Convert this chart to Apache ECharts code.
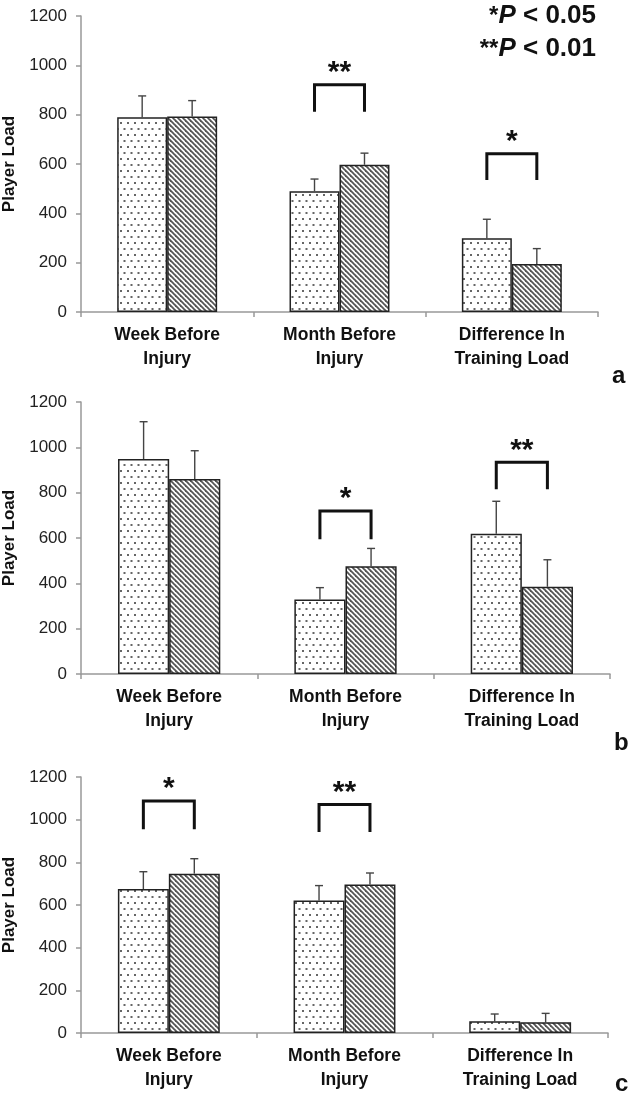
<!DOCTYPE html>
<html><head><meta charset="utf-8">
<script src="https://cdn.jsdelivr.net/npm/echarts@6/dist/echarts.min.js"></script>
<style>html,body{margin:0;padding:0;background:#fff}#c{width:631px;height:1097px}</style>
</head><body><div id="c"></div>
<script>
// ---- data ----
const categories = ['Week Before\nInjury', 'Month Before\nInjury', 'Difference In\nTraining Load'];
const yTicks = [0, 200, 400, 600, 800, 1000, 1200];
const panelLabels = ['a', 'b', 'c'];

const aDotted = [790, 490, 299];
const aDottedErr = [86, 49, 77];
const aHatched = [793, 597, 195];
const aHatchedErr = [64, 47, 62];

const bDotted = [948, 329, 619];
const bDottedErr = [165, 52, 143];
const bHatched = [860, 475, 385];
const bHatchedErr = [125, 79, 119];

const cDotted = [675, 621, 55];
const cDottedErr = [81, 70, 34];
const cHatched = [747, 696, 50];
const cHatchedErr = [70, 54, 42];

// significance brackets: [category index, leg bottom, bracket top, label]
const aBrackets = [[1, 812, 921, '**'], [2, 535, 642, '*']];
const bBrackets = [[1, 595, 719, '*'], [2, 815, 934, '**']];
const cBrackets = [[0, 955, 1087, '*'], [1, 942, 1071, '**']];

// ---- patterns ----
function dotPattern() {
  const c = document.createElement('canvas'); c.width = 7; c.height = 12;
  const x = c.getContext('2d');
  x.fillStyle = '#fff'; x.fillRect(0, 0, 7, 12);
  x.fillStyle = '#666';
  x.fillRect(1, 2, 2, 2); x.fillRect(4.5, 8, 2, 2);
  return c;
}
function hatchPattern() {
  const s = 5;
  const c = document.createElement('canvas'); c.width = s; c.height = s;
  const x = c.getContext('2d');
  x.fillStyle = '#fff'; x.fillRect(0, 0, s, s);
  x.strokeStyle = '#555'; x.lineWidth = 1.8;
  for (const k of [-s, 0, s]) { x.beginPath(); x.moveTo(k - 1, -1); x.lineTo(k + s + 1, s + 1); x.stroke(); }
  return c;
}
const dotFill = { image: dotPattern(), repeat: 'repeat' };
const hatchFill = { image: hatchPattern(), repeat: 'repeat' };

const GAP = 0.42;
const grids = [
  { left: 81, top: 16, width: 517, height: 296, containLabel: false, outerBoundsMode: 'none' },
  { left: 81, top: 402, width: 529, height: 272, containLabel: false, outerBoundsMode: 'none' },
  { left: 81, top: 777, width: 527, height: 256, containLabel: false, outerBoundsMode: 'none' }
];
const panels = [
  [aDotted, aDottedErr, aHatched, aHatchedErr, aBrackets],
  [bDotted, bDottedErr, bHatched, bHatchedErr, bBrackets],
  [cDotted, cDottedErr, cHatched, cHatchedErr, cBrackets]
];

const FONT = '"Liberation Sans", Arial, sans-serif';
const xAxis = [], yAxis = [], series = [];

function errSeries(i, means, errs, side) {
  return {
    type: 'custom', xAxisIndex: i, yAxisIndex: i, z: 1,
    data: means.map((m, k) => [k, m, errs[k]]),
    renderItem: function (params, api) {
      const band = api.size([1, 0])[0];
      const bw = band * (1 - GAP) / 2;
      const base = api.coord([api.value(0), api.value(1)]);
      const top = api.coord([api.value(0), api.value(1) + api.value(2)]);
      const x = base[0] + side * bw / 2;
      return { type: 'group', children: [
        { type: 'line', shape: { x1: x, y1: base[1], x2: x, y2: top[1] }, style: { stroke: '#444', lineWidth: 1.4 } },
        { type: 'line', shape: { x1: x - 4, y1: top[1], x2: x + 4, y2: top[1] }, style: { stroke: '#444', lineWidth: 1.4 } }
      ] };
    }
  };
}

panels.forEach((p, i) => {
  const [dm, de, hm, he, br] = p;
  xAxis.push({
    type: 'category', gridIndex: i, data: categories,
    axisLine: { lineStyle: { color: '#999', width: 1.5 } },
    axisTick: { show: true, length: 5, lineStyle: { color: '#999', width: 1.5 } },
    axisLabel: { interval: 0, color: '#111', fontFamily: FONT, fontWeight: 'bold', fontSize: 17.5, lineHeight: 24, margin: 11 }
  });
  yAxis.push({
    type: 'value', gridIndex: i, min: yTicks[0], max: yTicks[yTicks.length - 1], interval: 200,
    name: 'Player Load', nameLocation: 'middle', nameGap: 54, nameRotate: 90,
    nameTextStyle: { color: '#111', fontFamily: FONT, fontWeight: 'bold', fontSize: 17 },
    splitLine: { show: false },
    axisLine: { show: true, lineStyle: { color: '#999', width: 1.5 } },
    axisTick: { show: true, length: 5, lineStyle: { color: '#999', width: 1.5 } },
    axisLabel: { color: '#222', fontFamily: FONT, fontSize: 17, margin: 14, formatter: v => String(v) }
  });
  series.push({
    type: 'bar', xAxisIndex: i, yAxisIndex: i, data: dm, barGap: '0%', barCategoryGap: (GAP * 100) + '%',
    itemStyle: { color: dotFill, borderColor: '#222', borderWidth: 1.5 }, z: 2
  });
  series.push({
    type: 'bar', xAxisIndex: i, yAxisIndex: i, data: hm, barGap: '0%', barCategoryGap: (GAP * 100) + '%',
    itemStyle: { color: hatchFill, borderColor: '#222', borderWidth: 1.5 }, z: 2
  });
  series.push(errSeries(i, dm, de, -1));
  series.push(errSeries(i, hm, he, 1));
  series.push({
    type: 'custom', xAxisIndex: i, yAxisIndex: i, z: 3,
    data: br.map(b => [b[0], b[1], b[2]]),
    renderItem: function (params, api) {
      const band = api.size([1, 0])[0];
      const bw = band * (1 - GAP) / 2;
      const lo = api.coord([api.value(0), api.value(1)]);
      const hi = api.coord([api.value(0), api.value(2)]);
      const x1 = lo[0] - bw / 2, x2 = lo[0] + bw / 2;
      return { type: 'group', children: [
        { type: 'polyline', shape: { points: [[x1, lo[1]], [x1, hi[1]], [x2, hi[1]], [x2, lo[1]]] },
          style: { stroke: '#111', lineWidth: 3, fill: null } },
        { type: 'text', x: lo[0], y: hi[1] + 3,
          style: { text: br[params.dataIndex][3], fill: '#111', font: 'bold 30px ' + FONT, textAlign: 'center', textVerticalAlign: 'bottom' } }
      ] };
    }
  });
});

const rich = {
  s: { fontFamily: FONT, fontWeight: 'bold', fontSize: 24 },
  i: { fontFamily: FONT, fontWeight: 'bold', fontStyle: 'italic', fontSize: 26 },
  n: { fontFamily: FONT, fontWeight: 'bold', fontSize: 26 }
};
const graphic = [
  { type: 'text', right: 35, top: 3, style: { text: '{s|*}{i|P}{n| < 0.05}', fill: '#111', rich } },
  { type: 'text', right: 35, top: 36, style: { text: '{s|**}{i|P}{n| < 0.01}', fill: '#111', rich } },
  { type: 'text', left: 612, top: 364, style: { text: panelLabels[0], fill: '#111', font: 'bold 24px ' + FONT } },
  { type: 'text', left: 614, top: 731, style: { text: panelLabels[1], fill: '#111', font: 'bold 24px ' + FONT } },
  { type: 'text', left: 615, top: 1072, style: { text: panelLabels[2], fill: '#111', font: 'bold 24px ' + FONT } }
];

const chart = echarts.init(document.getElementById('c'), null, { renderer: 'canvas' });
chart.setOption({ animation: false, backgroundColor: '#fff', grid: grids, xAxis, yAxis, series, graphic });
</script></body></html>
